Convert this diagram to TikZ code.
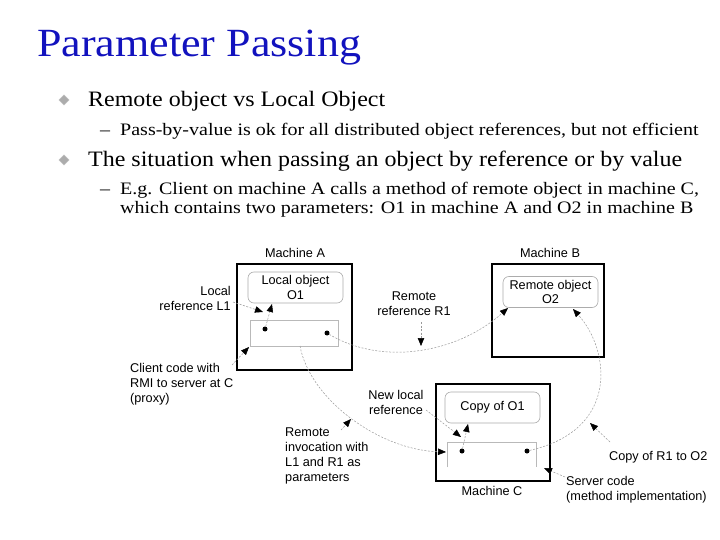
\documentclass[tikz,border=0pt]{standalone}
\usepackage{fontspec}
\setmainfont{Liberation Serif}
\newfontfamily\arialf{Liberation Sans}
\usetikzlibrary{arrows.meta}
\definecolor{titleblue}{RGB}{18,18,190}
\begin{document}
\begin{tikzpicture}[x=1pt,y=-1pt,
  txt/.style={anchor=base west,inner sep=0pt},
  lbl/.style={inner sep=0pt,font=\arialf\fontsize{12.7}{15}\selectfont},
  machine/.style={draw=black,line width=1.6pt},
  objbox/.style={draw=gray!65,rounded corners=6pt,line width=0.6pt,minimum width=95pt,minimum height=31pt,inner sep=0pt,align=center,font=\arialf\fontsize{12.7}{14.6}\selectfont},
  inner/.style={draw=gray!55,line width=0.8pt},
  conn/.style={draw=gray!80,line width=0.5pt,dash pattern=on 2pt off 1.5pt,-{Triangle[length=8pt,width=6.5pt,color=black]}},
  dotc/.style={circle,fill=black,inner sep=0pt,minimum size=5pt},
  bul/.style={fill=gray!65,draw=gray!50}
]
\useasboundingbox (0,0) rectangle (720,540);
\fill[white] (0,0) rectangle (720,540);

% Title and bullets
\node[txt,text=titleblue,font=\fontsize{40}{40}\selectfont] (title) at (37,57) {\scalebox{1.1}[1]{Parameter Passing}};
\fill[bul] (64,95) -- (69,100) -- (64,105) -- (59,100) -- cycle;
\node[txt,font=\fontsize{22}{22}\selectfont] (b1) at (88,107) {\scalebox{1.09}[1]{Remote object vs Local Object}};
\node[txt,font=\fontsize{17.5}{17.5}\selectfont] (d1) at (100,136) {\scalebox{1.14}[1]{–}};
\node[txt,font=\fontsize{17.5}{17.5}\selectfont] (s1) at (120,136) {\scalebox{1.144}[1]{Pass-by-value is ok for all distributed object references, but not efficient}};
\fill[bul] (64,155) -- (69,160) -- (64,165) -- (59,160) -- cycle;
\node[txt,font=\fontsize{22}{22}\selectfont] (b2) at (88,167) {\scalebox{1.09}[1]{The situation when passing an object by reference or by value}};
\node[txt,font=\fontsize{17.5}{17.5}\selectfont] (d2) at (100,195) {\scalebox{1.14}[1]{–}};
\node[txt,font=\fontsize{17.5}{17.5}\selectfont] (s2) at (120,195) {\scalebox{1.144}[1]{E.g. Client on machine A calls a method of remote object in machine C,}};
\node[txt,font=\fontsize{17.5}{17.5}\selectfont] (s3) at (120,214) {\scalebox{1.144}[1]{which contains two parameters: O1 in machine A and O2 in machine B}};

% Machine A
\node[lbl,anchor=base] (labA) at (295,258) {Machine A};
\draw[machine] (237,264) rectangle (352,370);
\node[objbox] (O1) at (295.5,287.5) {Local object\\O1};
\draw[inner] (250,320) rectangle (338,346);
\node[dotc] (dA1) at (265,329) {};
\node[dotc] (dA2) at (327,333) {};
\coordinate (Abot) at (300,346);
\coordinate (Acorner) at (249,347);

% Machine B
\node[lbl,anchor=base] (labB) at (550,258) {Machine B};
\draw[machine] (492,264) rectangle (604,357);
\node[objbox,minimum width=95pt] (O2) at (550.5,292) {Remote object\\O2};

% Machine C
\draw[machine] (436,384) rectangle (550,481);
\node[lbl,anchor=base] (labC) at (492,495) {Machine C};
\node[objbox] (CO1) at (492.5,407.5) {Copy of O1};
\draw[inner] (447,467) -- (447,442) -- (536,442) -- (536,467);
\node[dotc] (dC1) at (462,451) {};
\node[dotc] (dC2) at (527,451) {};
\coordinate (Cleft) at (446,452);
\coordinate (Ccorner) at (544,468);

% Labels
\node[lbl,align=right,anchor=north east] (lL1) at (231,286) {Local\\reference L1};
\node[lbl,align=left,anchor=north west] (lcl) at (130,363) {Client code with\\RMI to server at C\\(proxy)};
\node[lbl,align=center,anchor=north] (lR1) at (414,292) {Remote\\reference R1};
\node[lbl,align=center,anchor=north] (lnl) at (396,390) {New local\\reference};
\node[lbl,align=left,anchor=north west] (lri) at (285,428) {Remote\\invocation with\\L1 and R1 as\\parameters};
\node[lbl,anchor=north west] (lcp) at (609,451) {Copy of R1 to O2};
\node[lbl,align=left,anchor=north west] (lsc) at (566,476) {Server code\\(method implementation)};

% Connectors
\coordinate (pL1) at (233,302);
\draw[conn] (pL1) -- (263,312);
\draw[conn] (dA1) -- (272,304);
\coordinate (pcl) at (232,365);
\draw[conn] (pcl) -- (Acorner);
\draw[conn] (Abot) .. controls (310,400) and (380,450) .. (Cleft);
\coordinate (pri) at (341,430);
\draw[conn] (pri) -- (351,419);
\draw[conn] (dA2) .. controls (380,365) and (455,355) .. (508,308);
\coordinate (pR1) at (421,322);
\draw[conn] (pR1) -- (421,346);
\draw[conn] (dC2) .. controls (620,430) and (610,350) .. (573,309);
\coordinate (pcp) at (610,442);
\draw[conn] (pcp) -- (590,423);
\coordinate (pnl) at (426,410);
\draw[conn] (pnl) -- (461,437);
\draw[conn] (dC1) -- (468,424);
\coordinate (psc) at (565,477);
\draw[conn] (psc) -- (Ccorner);
\end{tikzpicture}
\end{document}
